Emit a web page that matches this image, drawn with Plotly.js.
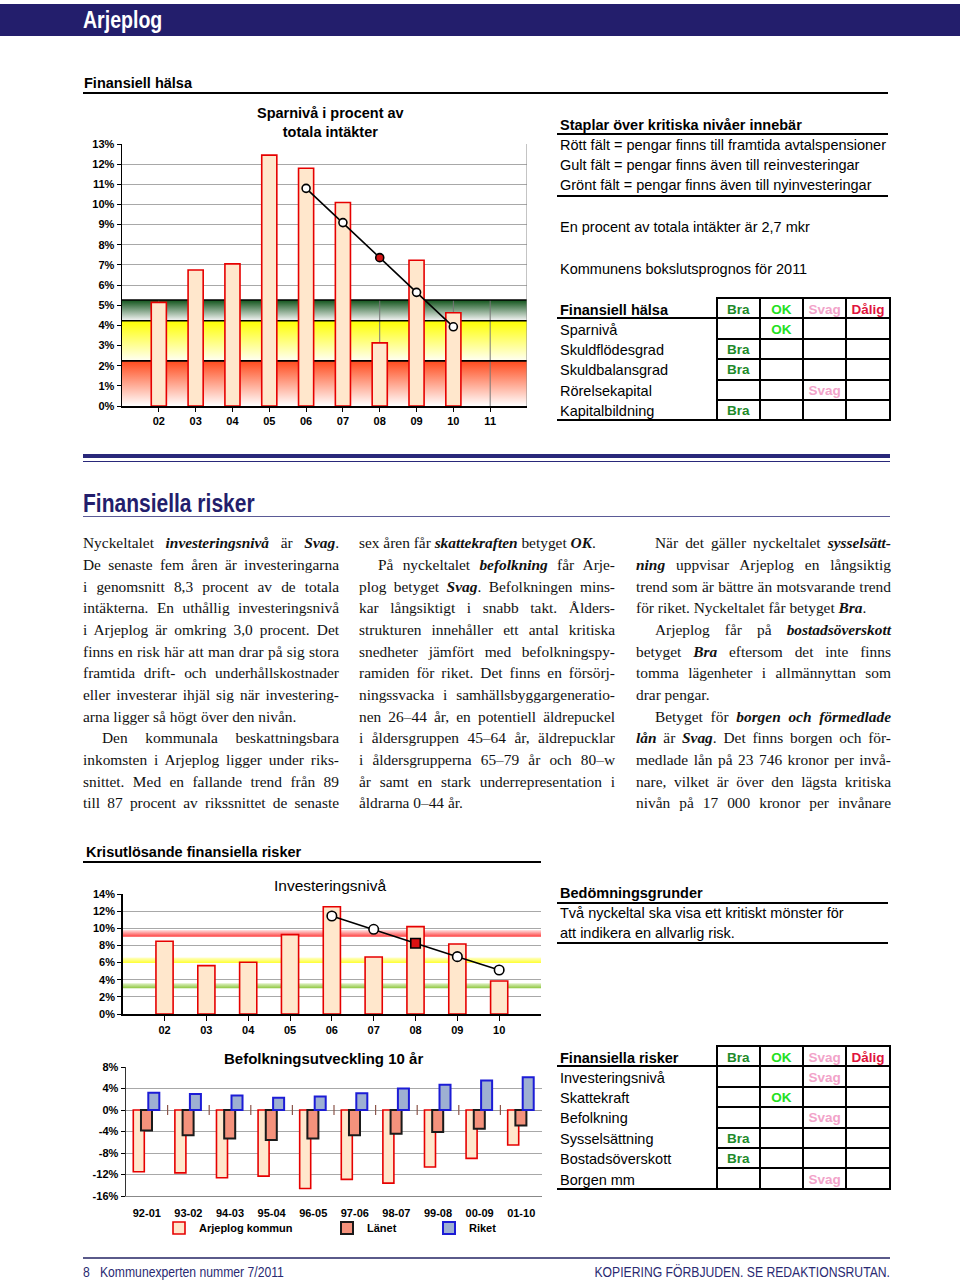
<!DOCTYPE html>
<html lang="sv"><head><meta charset="utf-8"><title>Arjeplog</title>
<script src="https://cdn.plot.ly/plotly-3.0.1.min.js"></script>
<style>
html,body{margin:0;padding:0;background:#fff;}
body{width:960px;height:1282px;position:relative;overflow:hidden;font-family:"Liberation Sans",Arial,sans-serif;color:#000;}
#plot{position:absolute;left:0;top:0;width:960px;height:1282px;}
#overlay{position:absolute;left:0;top:0;width:960px;height:1282px;pointer-events:none;}
.serif{font-family:"Liberation Serif","Times New Roman",serif;font-size:15.4px;}
</style></head><body>
<div id="plot"></div>
<div id="overlay"></div>
<script>
// ---------- DATA ----------
const sparYears = ['02','03','04','05','06','07','08','09','10','11'];
const sparLevel = [5.14, 6.75, 7.05, 12.45, 11.8, 10.1, 3.13, 7.23, 4.63, null];
const sparTrendYears = ['06','07','08','09','10'];
const sparTrend = [10.8, 9.1, 7.36, 5.64, 3.93];
const sparMarkedYear = '08';
const sparBandEdges = [0, 2.24, 4.23, 5.26];

const invYears = ['02','03','04','05','06','07','08','09','10'];
const invLevel = [8.48, 5.64, 6.03, 9.26, 12.52, 6.65, 10.19, 8.17, 3.85];
const invTrendYears = ['06','07','08','09','10'];
const invTrend = [11.43, 9.88, 8.25, 6.69, 5.13];
const invMarkedYear = '08';
const invBandLow = [3.0, 5.95, 9.0];
const invBandHigh = [3.6, 6.6, 9.8];

const befPeriods = ['92-01','93-02','94-03','95-04','96-05','97-06','98-07','99-08','00-09','01-10'];
const befArjeplog = [-11.5, -11.7, -12.6, -12.3, -14.6, -12.9, -13.6, -10.6, -9.0, -6.5];
const befLanet = [-3.8, -4.7, -5.3, -5.6, -5.3, -4.7, -4.4, -4.1, -3.5, -2.9];
const befRiket = [3.2, 3.0, 2.7, 2.3, 2.5, 3.1, 4.0, 4.7, 5.5, 6.1];
const befNames = ['Arjeplog kommun', 'Länet', 'Riket'];
const befTickVals = [8, 4, 0, -4, -8, -12, -16];

const grades = ['Bra', 'OK', 'Svag', 'Dålig'];
const halsaRows = ['Sparnivå', 'Skuldflödesgrad', 'Skuldbalansgrad', 'Rörelsekapital', 'Kapitalbildning'];
const halsaGrades = ['OK', 'Bra', 'Bra', 'Svag', 'Bra'];
const riskRows = ['Investeringsnivå', 'Skattekraft', 'Befolkning', 'Sysselsättning', 'Bostadsöverskott', 'Borgen mm'];
const riskGrades = ['Svag', 'OK', 'Svag', 'Bra', 'Bra', 'Svag'];

// ---------- helpers ----------
const W = 960, H = 1282;
const px = v => v / W, py = v => 1 - v / H;
const FAM = '"Liberation Sans", Arial, sans-serif';
const tickFont = {family: FAM, size: 11, weight: 'bold', color: '#000'};

// ---------- PLOTLY ----------
const traces = [];
// Sparnivå bands (base subplot x/y)
const N1 = sparYears.length;
const sparIdx = sparYears.map((_, i) => i);
const sparBandColors = [['#ffffff', '#ff4a1c'], ['#fffff4', '#ffff00'], ['#f6f6f6', '#10531a']];
for (let b = 0; b < 3; b++) {
  const lo = sparBandEdges[b], hi = sparBandEdges[b + 1];
  traces.push({type: 'scatter', xaxis: 'x', yaxis: 'y', x: [-1, N1, N1, -1, -1], y: [hi, hi, lo, lo, hi],
    mode: 'lines', line: {width: 0}, fill: 'toself',
    fillgradient: {type: 'vertical', colorscale: [[0, sparBandColors[b][0]], [1, sparBandColors[b][1]]]},
    hoverinfo: 'skip', showlegend: false});
}
const vx = [], vy = [];
sparIdx.forEach(i => { vx.push(i, i, null); vy.push(0, sparBandEdges[3], null); });
traces.push({type: 'scatter', xaxis: 'x', yaxis: 'y', x: vx, y: vy, mode: 'lines', line: {color: '#777', width: 1}, hoverinfo: 'skip', showlegend: false});
const bx = [], by = [];
sparBandEdges.slice(1).forEach(v => { bx.push(-1, N1, null); by.push(v, v, null); });
traces.push({type: 'scatter', xaxis: 'x', yaxis: 'y', x: bx, y: by, mode: 'lines', line: {color: '#000', width: 1.6}, hoverinfo: 'skip', showlegend: false});
// Sparnivå bars + trend (overlay subplot x2/y2)
traces.push({type: 'bar', xaxis: 'x2', yaxis: 'y2', x: sparIdx, y: sparLevel, width: 0.41,
  marker: {color: '#ffe7cc', line: {color: '#e60000', width: 1.6}}, showlegend: false});
traces.push({type: 'scatter', xaxis: 'x2', yaxis: 'y2', x: sparTrendYears.map(y => sparYears.indexOf(y)), y: sparTrend,
  mode: 'lines+markers', line: {color: '#000', width: 1.6},
  marker: {size: 8, color: sparTrendYears.map(y => y === sparMarkedYear ? '#d41414' : '#fff'), line: {color: '#000', width: 1.6}},
  showlegend: false});

// Investeringsnivå bands (base x3/y3)
const N2 = invYears.length;
const invIdx = invYears.map((_, i) => i);
const invBandColors = [['#8dc63f', '#e2f2c8'], ['#ffff30', '#ffffcc'], ['#ff3c3c', '#ffe2e2']];
for (let b = 0; b < 3; b++) {
  const lo = invBandLow[b], hi = invBandHigh[b];
  traces.push({type: 'scatter', xaxis: 'x3', yaxis: 'y3', x: [-1, N2, N2, -1, -1], y: [hi, hi, lo, lo, hi],
    mode: 'lines', line: {width: 0}, fill: 'toself',
    fillgradient: {type: 'vertical', colorscale: [[0, invBandColors[b][0]], [1, invBandColors[b][1]]]},
    hoverinfo: 'skip', showlegend: false});
}
traces.push({type: 'bar', xaxis: 'x4', yaxis: 'y4', x: invIdx, y: invLevel, width: 0.41,
  marker: {color: '#ffe7cc', line: {color: '#e60000', width: 1.6}}, showlegend: false});
traces.push({type: 'scatter', xaxis: 'x4', yaxis: 'y4', x: invTrendYears.map(y => invYears.indexOf(y)), y: invTrend,
  mode: 'lines+markers', line: {color: '#000', width: 1.6},
  marker: {size: 9.5, symbol: invTrendYears.map(y => y === invMarkedYear ? 'square' : 'circle'),
    color: invTrendYears.map(y => y === invMarkedYear ? '#dd1111' : '#fff'), line: {color: '#000', width: 1.6}},
  showlegend: false});

// Befolkning (x5/y5)
const befIdx = befPeriods.map((_, i) => i);
const befSeries = [befArjeplog, befLanet, befRiket];
const befStyle = [
  {fill: '#ffe7cc', line: '#e60000', lw: 1.6, offset: -0.325},
  {fill: '#f4927c', line: '#1a1a1a', lw: 2, offset: -0.14},
  {fill: '#9eb0d2', line: '#1c1cd6', lw: 2, offset: 0.036}
];
const legendIds = ['legend', 'legend2', 'legend3'];
befSeries.forEach((s, k) => {
  traces.push({type: 'bar', xaxis: 'x5', yaxis: 'y5', x: befIdx, y: s, width: 0.265, offset: befStyle[k].offset,
    name: befNames[k], legend: legendIds[k], showlegend: true,
    marker: {color: befStyle[k].fill, line: {color: befStyle[k].line, width: befStyle[k].lw}}});
});
traces.push({type: 'scatter', xaxis: 'x5', yaxis: 'y5', x: befIdx.slice(1).map(i => i - 0.5), y: befIdx.slice(1).map(() => 0),
  mode: 'markers', marker: {symbol: 'line-ns-open', size: 7, line: {color: '#999', width: 1.2}}, hoverinfo: 'skip', showlegend: false});

const baseX = {ticks: 'outside', ticklen: 4, tickcolor: '#000', showline: true, linecolor: '#000', linewidth: 1.5,
  showgrid: false, zeroline: false, tickfont: tickFont, fixedrange: true};
const baseY = {ticks: 'outside', ticklen: 4, tickcolor: '#000', showline: true, linecolor: '#000', linewidth: 1.5,
  gridcolor: '#a8a8a8', gridwidth: 1, zeroline: false, tickfont: tickFont, ticksuffix: '%', fixedrange: true};
const legendBase = {orientation: 'h', yanchor: 'middle', xanchor: 'left', bgcolor: 'rgba(0,0,0,0)', borderwidth: 0,
  font: {family: FAM, size: 11, weight: 'bold', color: '#000'}, y: py(1228)};

const layout = {
  width: W, height: H, margin: {l: 0, r: 0, t: 0, b: 0, pad: 0},
  paper_bgcolor: '#ffffff', plot_bgcolor: 'rgba(0,0,0,0)', barmode: 'overlay', showlegend: true,
  font: {family: FAM, color: '#000'}, hovermode: false,
  xaxis: Object.assign({}, baseX, {domain: [px(122), px(527)], range: [-1, N1], tickvals: sparIdx, ticktext: sparYears, anchor: 'y'}),
  yaxis: Object.assign({}, baseY, {domain: [py(406), py(144)], range: [0, 13], dtick: 1, anchor: 'x'}),
  xaxis2: {overlaying: 'x', range: [-1, N1], visible: false, anchor: 'y2', fixedrange: true},
  yaxis2: {overlaying: 'y', range: [0, 13], visible: false, anchor: 'x2', fixedrange: true},
  xaxis3: Object.assign({}, baseX, {domain: [px(122.7), px(541)], range: [-1, N2], tickvals: invIdx, ticktext: invYears, ticklen: 5, anchor: 'y3'}),
  yaxis3: Object.assign({}, baseY, {domain: [py(1014), py(894)], range: [0, 14], dtick: 2, anchor: 'x3'}),
  xaxis4: {overlaying: 'x3', range: [-1, N2], visible: false, anchor: 'y4', fixedrange: true},
  yaxis4: {overlaying: 'y3', range: [0, 14], visible: false, anchor: 'x4', fixedrange: true},
  xaxis5: Object.assign({}, baseX, {domain: [px(126), px(542)], range: [-0.5, befPeriods.length - 0.5], tickvals: befIdx, ticktext: befPeriods,
    ticks: '', ticklabelstandoff: 7, linecolor: '#888', linewidth: 1, anchor: 'y5'}),
  yaxis5: Object.assign({}, baseY, {domain: [py(1196), py(1067)], range: [-16, 8], tickvals: befTickVals,
    ticktext: befTickVals.map(v => String(v) + '%'), ticksuffix: '', linecolor: '#333', zeroline: true, zerolinecolor: '#999', zerolinewidth: 1, anchor: 'x5'}),
  legend: Object.assign({}, legendBase, {x: px(159)}),
  legend2: Object.assign({}, legendBase, {x: px(327)}),
  legend3: Object.assign({}, legendBase, {x: px(429)}),
  shapes: [
    {type: 'line', xref: 'x', yref: 'y', x0: N1, x1: N1, y0: 0, y1: 13, line: {color: '#888', width: 1}}
  ],
  annotations: [
    {xref: 'paper', yref: 'paper', x: px(330), y: py(122.5), text: 'Sparnivå i procent av<br>totala intäkter', showarrow: false,
      xanchor: 'center', yanchor: 'middle', font: {family: FAM, size: 14.5, weight: 'bold', color: '#000'}},
    {xref: 'paper', yref: 'paper', x: px(330), y: py(885), text: 'Investeringsnivå', showarrow: false,
      xanchor: 'center', yanchor: 'middle', font: {family: FAM, size: 15.5, color: '#000'}},
    {xref: 'paper', yref: 'paper', x: px(323), y: py(1058), text: 'Befolkningsutveckling 10 år', showarrow: false,
      xanchor: 'center', yanchor: 'middle', font: {family: FAM, size: 15, weight: 'bold', color: '#000'}}
  ]
};
Plotly.newPlot('plot', traces, layout, {staticPlot: true, displayModeBar: false});

// ---------- HTML TEXT / TABLES ----------
const ov = document.getElementById('overlay');
function el(css, html) { const d = document.createElement('div'); d.style.cssText = 'position:absolute;' + css; if (html !== undefined) d.innerHTML = html; ov.appendChild(d); return d; }
function text(x, yc, html, css) { return el(`left:${x}px;top:${yc - 10}px;height:20px;line-height:20px;white-space:nowrap;font-size:14.5px;${css || ''}`, html); }
function hline(x0, x1, y, w, c) { el(`left:${x0}px;top:${y - w / 2}px;width:${x1 - x0}px;height:${w}px;background:${c || '#000'}`); }
function vline(x, y0, y1, w, c) { el(`left:${x - w / 2}px;top:${y0}px;width:${w}px;height:${y1 - y0}px;background:${c || '#000'}`); }

const NAVY = '#231e6c';
// header bar
el(`left:0;top:4px;width:960px;height:32px;background:${NAVY}`);
text(83, 20, 'Arjeplog', 'color:#fff;font-weight:bold;font-size:23px;transform:scaleX(0.85);transform-origin:left center;height:30px;line-height:30px;top:5px');

// Finansiell hälsa section
text(84, 83, 'Finansiell hälsa', 'font-weight:bold');
hline(83, 888, 92.5, 2);

text(560, 125, 'Staplar över kritiska nivåer innebär', 'font-weight:bold');
hline(557, 888, 134, 2);
text(560, 145, 'Rött fält = pengar finns till framtida avtalspensioner');
text(560, 165, 'Gult fält = pengar finns även till reinvesteringar');
text(560, 185, 'Grönt fält = pengar finns även till nyinvesteringar');
hline(557, 888, 196, 2);
text(560, 227, 'En procent av totala intäkter är 2,7 mkr');
text(560, 269, 'Kommunens bokslutsprognos för 2011');

const gradeColors = {'Bra': '#1e8a2a', 'OK': '#22e022', 'Svag': '#f2a3c9', 'Dålig': '#e0143c'};
function ratingTable(top, title, labels, vals) {
  const rh = 20.4, gx = [716.5, 759.8, 803.1, 846.4, 889.7];
  const n = labels.length + 1, bottom = top + rh * n;
  for (let k = 0; k <= n; k++) {
    const y = top + rh * k, full = (k === 1 || k === n);
    hline(full ? 557 : gx[0] - 1, gx[4] + 1, y, 2);
  }
  gx.forEach(x => vline(x, top - 1, bottom + 1, 2));
  const cell = (j, yc, g) => el(`left:${gx[j]}px;top:${yc - 10}px;width:${gx[j + 1] - gx[j]}px;height:20px;line-height:20px;text-align:center;font-weight:bold;font-size:13.5px;color:${gradeColors[g]}`, g);
  text(560, top + rh / 2 + 1.5, title, 'font-weight:bold');
  grades.forEach((g, j) => cell(j, top + rh / 2 + 1.5, g));
  labels.forEach((l, i) => {
    const yc = top + rh * (i + 1.5) + 1;
    text(560, yc, l);
    cell(grades.indexOf(vals[i]), yc, vals[i]);
  });
}
ratingTable(298, 'Finansiell hälsa', halsaRows, halsaGrades);

// Finansiella risker heading
hline(83, 890, 456, 3.5, '#29287a');
hline(83, 890, 461.5, 1.2, '#29287a');
text(83, 503, 'Finansiella risker', `color:${NAVY};font-weight:bold;font-size:25px;transform:scaleX(0.84);transform-origin:left center;height:30px;line-height:30px;top:488px`);
hline(83, 890, 516, 1, '#5a5a96');

// text columns
const col1 = [
  ['Nyckeltalet <b><i>investeringsnivå</i></b> är <b><i>Svag</i></b>.', 1, 0],
  ['De senaste fem åren är investeringarna', 1, 0],
  ['i genomsnitt 8,3 procent av de totala', 1, 0],
  ['intäkterna. En uthållig investeringsnivå', 1, 0],
  ['i Arjeplog är omkring 3,0 procent. Det', 1, 0],
  ['finns en risk här att man drar på sig stora', 1, 0],
  ['framtida drift- och underhållskostnader', 1, 0],
  ['eller investerar ihjäl sig när investering-', 1, 0],
  ['arna ligger så högt över den nivån.', 0, 0],
  ['Den kommunala beskattningsbara', 1, 1],
  ['inkomsten i Arjeplog ligger under riks-', 1, 0],
  ['snittet. Med en fallande trend från 89', 1, 0],
  ['till 87 procent av rikssnittet de senaste', 1, 0]
];
const col2 = [
  ['sex åren får <b><i>skattekraften</i></b> betyget <b><i>OK</i></b>.', 0, 0],
  ['På nyckeltalet <b><i>befolkning</i></b> får Arje-', 1, 1],
  ['plog betyget <b><i>Svag</i></b>. Befolkningen mins-', 1, 0],
  ['kar långsiktigt i snabb takt. Ålders-', 1, 0],
  ['strukturen innehåller ett antal kritiska', 1, 0],
  ['snedheter jämfört med befolkningspy-', 1, 0],
  ['ramiden för riket. Det finns en försörj-', 1, 0],
  ['ningssvacka i samhällsbyggargeneratio-', 1, 0],
  ['nen 26–44 år, en potentiell äldrepuckel', 1, 0],
  ['i åldersgruppen 45–64 år, äldrepucklar', 1, 0],
  ['i åldersgrupperna 65–79 år och 80–w', 1, 0],
  ['år samt en stark underrepresentation i', 1, 0],
  ['åldrarna 0–44 år.', 0, 0]
];
const col3 = [
  ['När det gäller nyckeltalet <b><i>sysselsätt-</i></b>', 1, 1],
  ['<b><i>ning</i></b> uppvisar Arjeplog en långsiktig', 1, 0],
  ['trend som är bättre än motsvarande trend', 1, 0],
  ['för riket. Nyckeltalet får betyget <b><i>Bra</i></b>.', 0, 0],
  ['Arjeplog får på <b><i>bostadsöverskott</i></b>', 1, 1],
  ['betyget <b><i>Bra</i></b> eftersom det inte finns', 1, 0],
  ['tomma lägenheter i allmännyttan som', 1, 0],
  ['drar pengar.', 0, 0],
  ['Betyget för <b><i>borgen och förmedlade</i></b>', 1, 1],
  ['<b><i>lån</i></b> är <b><i>Svag</i></b>. Det finns borgen och för-', 1, 0],
  ['medlade lån på 23 746 kronor per invå-', 1, 0],
  ['nare, vilket är över den lägsta kritiska', 1, 0],
  ['nivån på 17 000 kronor per invånare', 1, 0]
];
const LH = 21.67;
function column(x, w, lines) {
  lines.forEach((ln, k) => {
    const ind = ln[2] ? 19 : 0;
    const avail = w - ind;
    const yc = 543 + k * LH;
    // measure natural width, tighten letter-spacing if the line would not fit
    const m = el('left:0;top:0;visibility:hidden;white-space:nowrap;', ln[0]);
    m.className = 'serif';
    const nat = m.getBoundingClientRect().width;
    m.remove();
    let ls = 0;
    if (nat > avail - 1) ls = -(nat - avail + 2) / ln[0].replace(/<[^>]+>/g, '').length;
    const d = el(`left:${x + ind}px;top:${yc - LH / 2}px;width:${avail}px;height:${LH}px;line-height:${LH}px;color:#111;letter-spacing:${ls}px;` +
      (ln[1] ? 'text-align:justify;text-align-last:justify;' : 'text-align:left;'), ln[0]);
    d.className = 'serif';
  });
}
column(83, 256, col1);
column(359, 256, col2);
column(636, 255, col3);

// Krisutlösande section
text(86, 852, 'Krisutlösande finansiella risker', 'font-weight:bold');
hline(83, 541, 862, 2);

text(560, 893, 'Bedömningsgrunder', 'font-weight:bold');
hline(557, 888, 903, 2);
text(560, 913, 'Två nyckeltal ska visa ett kritiskt mönster för');
text(560, 933, 'att indikera en allvarlig risk.');
hline(557, 888, 943, 2);
ratingTable(1046, 'Finansiella risker', riskRows, riskGrades);

// footer
hline(83, 890, 1258, 1.2, '#5a5a8a');
text(83, 1272, '8&nbsp;&nbsp;&nbsp;Kommunexperten nummer 7/2011', 'color:#2a2a72;font-size:14px;transform:scaleX(0.87);transform-origin:left center');
el('left:490px;top:1262px;width:400px;height:20px;line-height:20px;text-align:right;white-space:nowrap;color:#2a2a72;font-size:14px;transform:scaleX(0.87);transform-origin:right center', 'KOPIERING FÖRBJUDEN. SE REDAKTIONSRUTAN.');
</script>
</body></html>
